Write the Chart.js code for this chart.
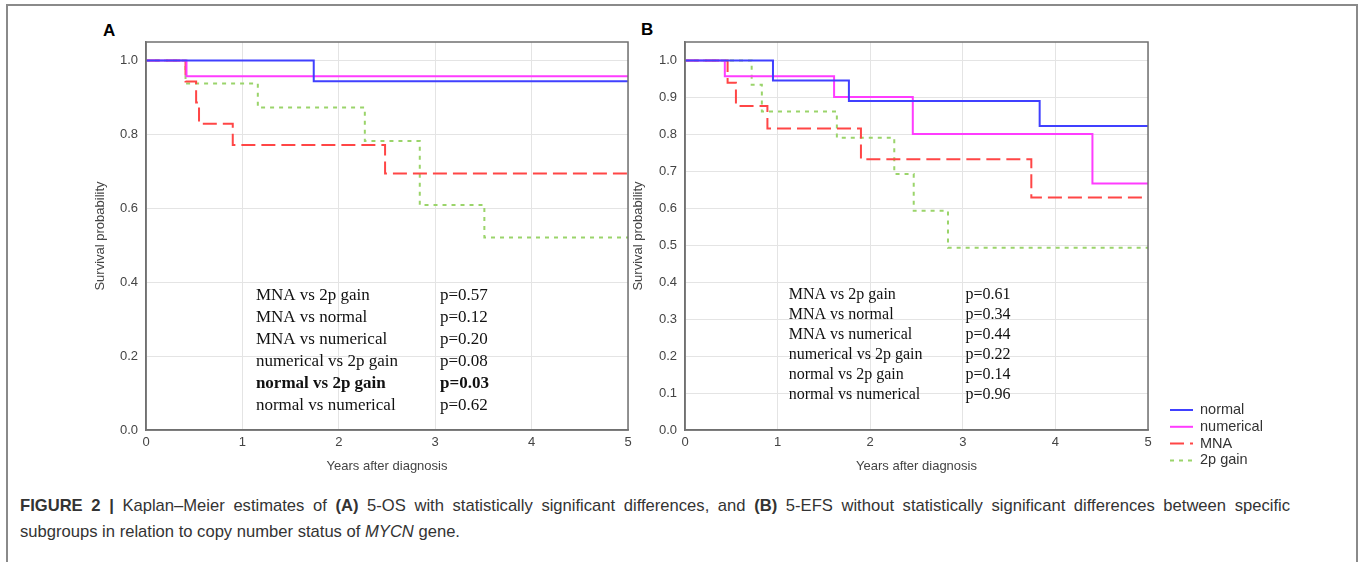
<!DOCTYPE html>
<html>
<head>
<meta charset="utf-8">
<script src="https://cdn.jsdelivr.net/npm/chart.js@4/dist/chart.umd.min.js"></script>
<style>
  body { margin: 0; background: #fff; width: 1360px; height: 562px; overflow: hidden; position: relative;
         font-family: "Liberation Sans", Arial, sans-serif; }
  #frame { position: absolute; left: 6px; top: 4px; width: 1348px; height: 600px; border: 2px solid #8a8a8a; border-bottom: none; }
  .tag { position: absolute; font-weight: bold; font-size: 17px; color: #000; }
  #chartA { position: absolute; left: 90px; top: 0; }
  #chartB { position: absolute; left: 628px; top: 0; }
  #caption { position: absolute; left: 20px; top: 493px; width: 1270px; font-size: 16.6px; line-height: 26px; color: #333; }
  #caption .l1 { text-align: justify; text-align-last: justify; white-space: nowrap; }
</style>
</head>
<body>
<div id="frame"></div>
<div class="tag" style="left:103px;top:21px">A</div>
<div class="tag" style="left:641px;top:20px">B</div>
<canvas id="chartA" width="548" height="480"></canvas>
<canvas id="chartB" width="680" height="480"></canvas>
<div id="caption"><div class="l1"><b>FIGURE 2 |</b> Kaplan–Meier estimates of <b>(A)</b> 5-OS with statistically significant differences, and <b>(B)</b> 5-EFS without statistically significant differences between specific</div><div>subgroups in relation to copy number status of <i>MYCN</i> gene.</div></div>
<script>
// groups and axis ticks
const groups = ['normal', 'numerical', 'MNA', '2p gain'];
const yearTicks = [0, 1, 2, 3, 4, 5];
const osTicks = [0, 0.2, 0.4, 0.6, 0.8, 1.0];
const efsTicks = [0, 0.1, 0.2, 0.3, 0.4, 0.5, 0.6, 0.7, 0.8, 0.9, 1.0];

// panel A: 5-OS, event times (years) and survival after each step
const osNormalTime = [1.74];
const osNormalSurv = [0.944];
const osNumericalTime = [0.42];
const osNumericalSurv = [0.957];
const osMnaTime = [0.41, 0.52, 0.55, 0.90, 2.48];
const osMnaSurv = [0.943, 0.886, 0.829, 0.771, 0.694];
const osGainTime = [0.41, 1.16, 2.27, 2.84, 3.51];
const osGainSurv = [0.938, 0.873, 0.782, 0.609, 0.521];

// panel B: 5-EFS
const efsNormalTime = [0.95, 1.77, 3.83];
const efsNormalSurv = [0.946, 0.890, 0.823];
const efsNumericalTime = [0.43, 1.61, 2.46, 4.40];
const efsNumericalSurv = [0.957, 0.901, 0.801, 0.667];
const efsMnaTime = [0.46, 0.55, 0.89, 1.90, 3.74];
const efsMnaSurv = [0.940, 0.877, 0.816, 0.733, 0.629];
const efsGainTime = [0.72, 0.83, 1.64, 2.26, 2.47, 2.84];
const efsGainSurv = [0.934, 0.862, 0.791, 0.693, 0.593, 0.493];

// log-rank comparisons
const comparisons = ['MNA vs 2p gain', 'MNA vs normal', 'MNA vs numerical', 'numerical vs 2p gain', 'normal vs 2p gain', 'normal vs numerical'];
const pValuesA = ['p=0.57', 'p=0.12', 'p=0.20', 'p=0.08', 'p=0.03', 'p=0.62'];
const pValuesB = ['p=0.61', 'p=0.34', 'p=0.44', 'p=0.22', 'p=0.14', 'p=0.96'];

const colors = ['#4040ff', '#ff3cff', '#ff4646', '#9ad46a'];
const dashes = [[], [], [14, 6], [4, 5]];

function steps(times, surv) {
  var pts = [{x: 0, y: 1}];
  times.forEach(function (t, i) { pts.push({x: t, y: surv[i]}); });
  pts.push({x: 5, y: surv[surv.length - 1]});
  return pts;
}

function makeSets(list) {
  return list.map(function (d, i) {
    return {
      label: groups[i],
      data: steps(d[0], d[1]),
      stepped: true,
      borderColor: colors[i],
      borderDash: dashes[i],
      borderWidth: 2,
      pointRadius: 0,
      fill: false
    };
  });
}

const plotBox = {
  id: 'plotBox',
  afterDatasetsDraw: function (chart) {
    var a = chart.chartArea, ctx = chart.ctx;
    ctx.save();
    ctx.strokeStyle = '#707070';
    ctx.lineWidth = 1.5;
    ctx.strokeRect(a.left, a.top, a.right - a.left, a.bottom - a.top);
    ctx.restore();
  }
};

const statsText = {
  id: 'statsText',
  afterDatasetsDraw: function (chart, args, opts) {
    var ctx = chart.ctx, x = chart.scales.x, y = chart.scales.y;
    ctx.save();
    ctx.fillStyle = '#111';
    ctx.textBaseline = 'middle';
    opts.labels.forEach(function (lab, i) {
      var yy = y.getPixelForValue(opts.top - i * opts.step);
      ctx.font = (opts.bold === i ? 'bold ' : '') + opts.size + 'px "Liberation Serif", "Times New Roman", serif';
      ctx.fillText(lab, x.getPixelForValue(opts.x1), yy);
      ctx.fillText(opts.values[i], x.getPixelForValue(opts.x2), yy);
    });
    ctx.restore();
  }
};

const sideLegend = {
  id: 'sideLegend',
  afterDraw: function (chart, args, opts) {
    if (!opts.show) return;
    var ctx = chart.ctx, a = chart.chartArea;
    ctx.save();
    ctx.font = '14.5px "Liberation Sans", Arial, sans-serif';
    ctx.textBaseline = 'middle';
    chart.data.datasets.forEach(function (ds, i) {
      var yy = a.bottom - 20 + i * 16.8;
      ctx.strokeStyle = ds.borderColor;
      ctx.lineWidth = 2;
      ctx.setLineDash(ds.borderDash);
      ctx.beginPath();
      ctx.moveTo(a.right + 22, yy);
      ctx.lineTo(a.right + 45, yy);
      ctx.stroke();
      ctx.setLineDash([]);
      ctx.fillStyle = '#333';
      ctx.fillText(ds.label, a.right + 52, yy);
    });
    ctx.restore();
  }
};

function makeOptions(yTicks, yMax, padRight, yWidth, stats, showLegend) {
  var tickFont = {family: '"Liberation Sans", Arial, sans-serif', size: 13};
  return {
    responsive: false,
    animation: false,
    layout: {padding: {top: 42, right: padRight, left: 0, bottom: 0}},
    plugins: {
      legend: {display: false},
      tooltip: {enabled: false},
      statsText: stats,
      sideLegend: {show: showLegend}
    },
    scales: {
      x: {
        type: 'linear', min: 0, max: 5,
        afterBuildTicks: function (s) { s.ticks = yearTicks.map(function (v) { return {value: v}; }); },
        afterFit: function (s) { s.height = 50; },
        ticks: {color: '#444', font: tickFont, padding: 5, maxRotation: 0},
        grid: {color: '#e4e4e4', drawTicks: false},
        border: {color: '#707070', width: 1.5},
        title: {display: true, text: 'Years after diagnosis', color: '#444',
                font: {family: '"Liberation Sans", Arial, sans-serif', size: 13}, padding: {top: 0, bottom: 6}}
      },
      y: {
        type: 'linear', min: 0, max: yMax,
        afterBuildTicks: function (s) { s.ticks = yTicks.map(function (v) { return {value: v}; }); },
        afterFit: function (s) { s.width = yWidth; },
        ticks: {color: '#444', font: tickFont, padding: 8, callback: function (v) { return v.toFixed(1); }},
        grid: {color: '#e4e4e4', drawTicks: false},
        border: {color: '#707070', width: 1.5},
        title: {display: true, text: 'Survival probability', color: '#444',
                font: {family: '"Liberation Sans", Arial, sans-serif', size: 13}, padding: {top: 3, bottom: 0}}
      }
    }
  };
}

new Chart(document.getElementById('chartA'), {
  type: 'line',
  data: {datasets: makeSets([
    [osNormalTime, osNormalSurv],
    [osNumericalTime, osNumericalSurv],
    [osMnaTime, osMnaSurv],
    [osGainTime, osGainSurv]
  ])},
  options: makeOptions(osTicks, 1.05, 10, 56,
    {labels: comparisons, values: pValuesA, bold: 4, x1: 1.14, x2: 3.05, top: 0.365, step: 0.0597, size: 17}, false),
  plugins: [plotBox, statsText, sideLegend]
});

new Chart(document.getElementById('chartB'), {
  type: 'line',
  data: {datasets: makeSets([
    [efsNormalTime, efsNormalSurv],
    [efsNumericalTime, efsNumericalSurv],
    [efsMnaTime, efsMnaSurv],
    [efsGainTime, efsGainSurv]
  ])},
  options: makeOptions(efsTicks, 1.05, 160, 57,
    {labels: comparisons, values: pValuesB, bold: -1, x1: 1.12, x2: 3.03, top: 0.365, step: 0.054, size: 16}, true),
  plugins: [plotBox, statsText, sideLegend]
});
</script>
</body>
</html>
